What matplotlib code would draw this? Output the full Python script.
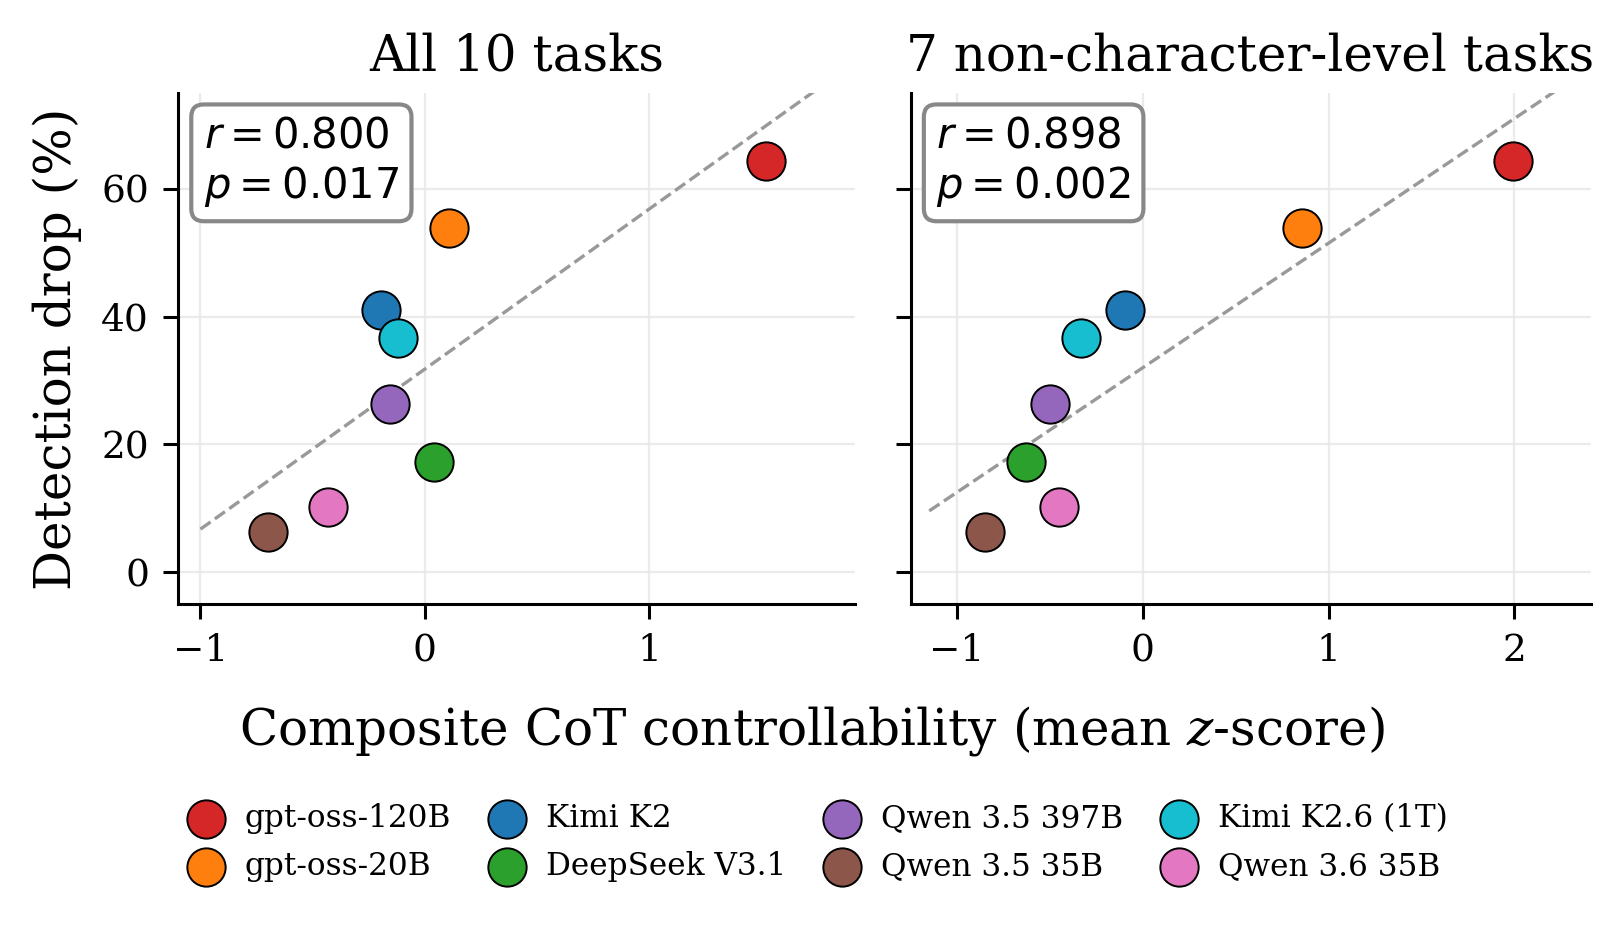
"""Detection drop vs composite CoT controllability, two task subsets."""
import matplotlib
matplotlib.use("Agg")
import matplotlib.pyplot as plt
import numpy as np

MODELS = [
    "gpt-oss-120B", "gpt-oss-20B", "Kimi K2", "DeepSeek V3.1",
    "Qwen 3.5 397B", "Qwen 3.5 35B", "Kimi K2.6 (1T)", "Qwen 3.6 35B",
]
COLORS = [
    "#d62728", "#ff7f0e", "#1f77b4", "#2ca02c",
    "#9467bd", "#8c564b", "#17becf", "#e377c2",
]
DETECTION_DROP = [64.4, 53.8, 41.0, 17.2, 26.3, 6.2, 36.6, 10.2]
Z_ALL = [1.52, 0.106, -0.194, 0.041, -0.157, -0.70, -0.12, -0.433]
Z_NONCHAR = [1.994, 0.855, -0.095, -0.631, -0.497, -0.849, -0.335, -0.453]

PANELS = [
    ("All 10 tasks", Z_ALL, "$r = 0.800$\n$p = 0.017$", (-1.10, 1.92)),
    ("7 non-character-level tasks", Z_NONCHAR, "$r = 0.898$\n$p = 0.002$", (-1.25, 2.41)),
]

plt.rcParams["font.family"] = "DejaVu Serif"
plt.rcParams["mathtext.fontset"] = "dejavusans"

fig = plt.figure(figsize=(8.115, 4.625), dpi=200)
ax_left = fig.add_axes([0.1097, 0.347, 0.4173, 0.5525])
ax_right = fig.add_axes([0.561, 0.347, 0.419, 0.5525], sharey=ax_left)

for ax, (title, zs, stats, xlim) in zip((ax_left, ax_right), PANELS):
    xs = np.array(zs)
    ys = np.array(DETECTION_DROP)
    slope, icpt = np.polyfit(xs, ys, 1)
    line_x = np.linspace(xs.min() - 0.3, xs.max() + 0.3, 50)
    ax.plot(line_x, slope * line_x + icpt, ls="--", color="#999999", lw=1.2, zorder=1)
    for name, color, x, y in zip(MODELS, COLORS, xs, ys):
        ax.scatter(x, y, s=190, color=color, edgecolor="black", linewidth=0.7,
                   zorder=3, label=name)
    ax.text(0.038, 0.957, stats, transform=ax.transAxes, ha="left", va="top",
            fontsize=15, family="DejaVu Sans", linespacing=1.2,
            bbox=dict(boxstyle="round,pad=0.3", facecolor="white",
                      edgecolor="#888888", linewidth=1.5))
    ax.set_title(title, fontsize=18, pad=8)
    ax.set_xlim(*xlim)
    ax.set_ylim(-5, 75)
    ax.set_yticks([0, 20, 40, 60])
    ax.grid(True, color="#e6e6e6", linewidth=0.8, alpha=0.8)
    ax.set_axisbelow(True)
    ax.spines["top"].set_visible(False)
    ax.spines["right"].set_visible(False)
    for side in ("left", "bottom"):
        ax.spines[side].set_linewidth(1.1)
    ax.tick_params(labelsize=13.5, length=5.5, width=1.1, pad=5)

ax_right.tick_params(labelleft=False)
ax_left.set_ylabel("Detection drop (%)", fontsize=18, labelpad=7)
fig.text(0.5, 0.21, "Composite CoT controllability (mean $z$-score)",
         ha="center", va="center", fontsize=18,
         math_fontfamily="dejavuserif")

handles, labels = ax_left.get_legend_handles_labels()
fig.legend(handles, labels, loc="center", bbox_to_anchor=(0.5, 0.089), ncol=4,
           frameon=False, fontsize=11.2, handletextpad=0.25, columnspacing=0.8,
           labelspacing=0.55, borderaxespad=0)

fig.savefig("out.png", dpi=200)
